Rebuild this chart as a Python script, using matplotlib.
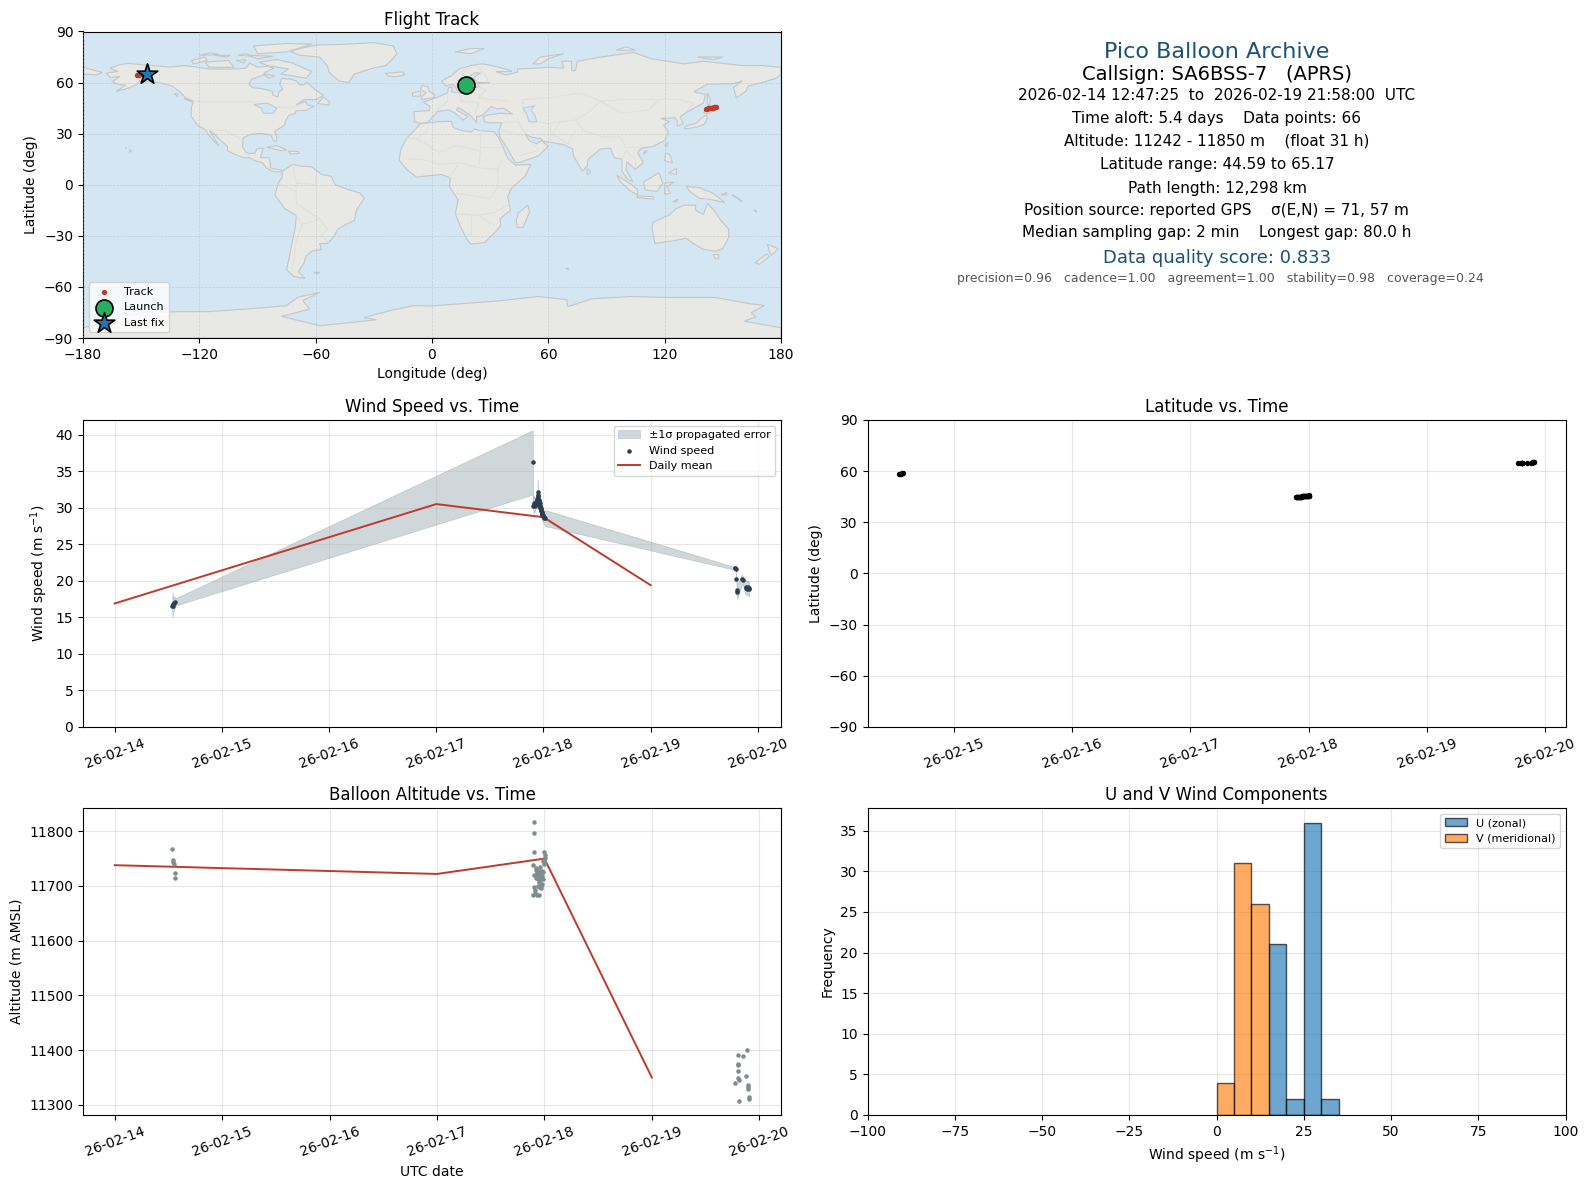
import matplotlib
matplotlib.use("Agg")
import matplotlib.dates as mdates
import matplotlib.pyplot as plt
import numpy as np
from matplotlib.patches import Polygon

####################
# A) Data
####################

# times are given as day of February 2026
mean_days = [14.0, 17.0, 18.0, 19.0]
mean_speed = [16.9, 30.5, 28.7, 19.4]
mean_alt = [11738, 11722, 11750, 11350]

speed_days = [14.535, 14.540, 14.548, 14.556, 14.565,
              17.900, 17.905, 17.910, 17.915, 17.920, 17.925, 17.930, 17.935, 17.938, 17.941,
              17.944, 17.946, 17.948, 17.950, 17.952, 17.954, 17.956, 17.958, 17.960, 17.962,
              17.964, 17.966, 17.968, 17.970, 17.972, 17.974, 17.976, 17.978, 17.980, 17.982,
              17.984, 17.986, 17.988, 17.990, 17.992, 17.994, 17.996, 17.998, 18.002, 18.006,
              18.012,
              19.785, 19.790, 19.795, 19.800, 19.805, 19.808, 19.852, 19.858, 19.885, 19.892,
              19.898, 19.905, 19.910, 19.915, 19.920]
speed = [16.5, 16.8, 16.6, 17.0, 17.1,
         36.2, 30.3, 30.4, 30.6, 30.2, 30.5, 30.8, 31.0, 30.9, 30.7,
         31.2, 32.2, 31.6, 31.3, 31.7, 30.9, 31.0, 30.8, 30.6, 30.4,
         30.6, 30.2, 30.3, 30.0, 30.1, 29.8, 29.9, 29.6, 29.7, 29.4,
         29.3, 29.2, 29.1, 29.0, 29.0, 28.9, 28.8, 28.8, 28.7, 28.6,
         28.6,
         21.7, 21.7, 21.6, 20.2, 18.7, 18.5, 20.2, 20.1, 19.0, 19.1,
         18.9, 19.1, 19.0, 18.9, 19.0]
speed_err = [0.6, 1.7, 0.8, 0.9, 0.5,
             4.4, 0.9, 1.2, 1.0, 0.8, 0.7, 0.8, 0.9, 0.7, 0.8,
             0.9, 1.6, 1.0, 0.9, 0.8, 0.8, 0.8, 0.7, 0.7, 0.8,
             0.7, 0.7, 0.8, 0.7, 0.8, 0.7, 0.7, 0.7, 0.8, 0.7,
             0.8, 0.7, 0.7, 0.8, 0.7, 0.8, 0.7, 0.8, 0.9, 0.9,
             1.1,
             0.2, 0.3, 0.3, 0.6, 1.0, 1.0, 0.7, 0.6, 0.9, 1.0,
             0.9, 1.0, 0.9, 1.1, 1.0]

fix_days = [14.535, 14.540, 14.545, 14.552, 14.558, 14.565,
            17.905, 17.905, 17.905, 17.903, 17.900, 17.898, 17.908, 17.914, 17.895, 17.918,
            17.921, 17.924, 17.927, 17.930, 17.933, 17.936, 17.939, 17.942, 17.945, 17.948,
            17.951, 17.954, 17.957, 17.960, 17.963, 17.966, 17.969, 17.972, 17.975, 17.978,
            17.981, 17.984, 17.987, 17.990, 17.993, 17.996, 18.000, 18.002, 18.004, 18.006,
            19.777, 19.803, 19.803, 19.805, 19.805, 19.805, 19.808, 19.810, 19.850, 19.880,
            19.888, 19.898, 19.898, 19.898, 19.907, 19.907]
altitude = [11767, 11748, 11744, 11740, 11724, 11715,
            11817, 11797, 11762, 11720, 11698, 11684, 11688, 11692, 11738, 11733,
            11730, 11715, 11726, 11722, 11684, 11720, 11712, 11700, 11684, 11708,
            11727, 11698, 11716, 11735, 11722, 11700, 11712, 11696, 11728, 11704,
            11719, 11745, 11725, 11712, 11740, 11750, 11763, 11757, 11752, 11742,
            11340, 11392, 11375, 11373, 11362, 11350, 11307, 11345, 11390, 11353,
            11400, 11336, 11333, 11329, 11315, 11310]
latitude = [58.2, 58.3, 58.4, 58.5, 58.7, 58.8,
            44.6, 44.6, 44.7, 44.7, 44.7, 44.8, 44.8, 44.8, 44.9, 44.9,
            44.9, 45.0, 45.0, 45.0, 45.1, 45.1, 45.1, 45.1, 45.2, 45.2,
            45.2, 45.2, 45.3, 45.3, 45.3, 45.3, 45.4, 45.4, 45.4, 45.4,
            45.5, 45.5, 45.5, 45.5, 45.6, 45.6, 45.6, 45.7, 45.7, 45.8,
            64.6, 64.6, 64.7, 64.7, 64.7, 64.8, 64.8, 64.8, 64.8, 65.0,
            65.0, 65.1, 65.1, 65.1, 65.2, 65.2]

track_lon = [141.5, 142.0, 142.4, 142.8, 143.2, 143.6, 144.0, 144.4, 144.8, 145.2, 145.6, 146.0, 146.5,
             -152.0, -151.5, -151.0, -150.5, -150.0, -149.0, -148.0, -147.0]
track_lat = [44.6, 44.7, 44.8, 44.9, 45.0, 45.1, 45.1, 45.2, 45.3, 45.4, 45.5, 45.7, 45.9,
             64.6, 64.7, 64.7, 64.8, 65.0, 65.1, 65.1, 65.2]
launch_lon, launch_lat = 17.5, 58.5
last_lon, last_lat = -147.0, 65.2

bin_left = [0, 5, 10, 15, 20, 25, 30]
u_counts = [0, 0, 0, 21, 2, 36, 2]
v_counts = [4, 31, 26, 0, 0, 0, 0]

# land outlines (lon, lat)
north_america = [(-168, 65.5), (-162, 66.5), (-166, 68.5), (-161, 70.5), (-156.5, 71.3), (-150, 70.5), (-141, 69.7),
                 (-135, 69), (-128, 70), (-124, 69.5), (-115, 68), (-108, 68), (-100, 68), (-96, 68.5), (-94, 71.5),
                 (-90, 69), (-85, 69.5), (-81.5, 68.5), (-86, 66), (-87, 64.5), (-93, 62), (-94.5, 59), (-92.5, 57),
                 (-88, 56.5), (-82.5, 55), (-82, 52.5), (-79.5, 51.5), (-79, 54.5), (-77, 56), (-78.5, 59), (-77.5, 62.5),
                 (-73, 62), (-70, 61), (-68, 58.5), (-66, 58.8), (-64.5, 60.3), (-61, 56.5), (-56, 52.5), (-60, 50), (-66, 50),
                 (-70, 47), (-65, 49), (-64.5, 47), (-61, 46), (-65, 43.7), (-70, 43.5), (-70.5, 42), (-74, 40.5), (-75.5, 37.5),
                 (-76, 35), (-81, 31.5), (-80, 27), (-80.5, 25.2), (-82, 26.5), (-83, 29), (-85, 29.7), (-89, 30.2),
                 (-94, 29.5), (-97.3, 27.5), (-97.8, 22.5), (-96, 19), (-94, 18.2), (-91, 18.8), (-90.5, 21), (-87, 21.5),
                 (-88, 18), (-88.5, 16), (-84, 15.8), (-83.3, 12), (-83.5, 10), (-80, 9), (-77.5, 8.7), (-78, 7.5), (-80, 7.5),
                 (-83, 8.2), (-85.5, 10), (-87.5, 13), (-91, 14), (-94.5, 16), (-97, 15.8), (-102, 18), (-105.5, 20),
                 (-105.5, 22.5), (-109, 26), (-112.5, 30), (-114.7, 31.7), (-112.5, 27.5), (-110, 23), (-112, 25), (-115, 29),
                 (-117, 32.5), (-120.5, 34.5), (-122.5, 37.5), (-124.3, 40.3), (-124, 46), (-123, 49), (-127, 51), (-130, 54.5),
                 (-134, 58), (-140, 59.8), (-146, 60.8), (-149, 60), (-151, 61), (-152, 59), (-156, 57), (-163, 54.8), (-158, 58.5),
                 (-162, 59), (-165, 60.5), (-161, 63.5), (-166, 63)]
greenland = [(-73, 78.2), (-68, 80), (-60, 82), (-45, 82.5), (-30, 83.5), (-20, 81.5), (-18, 77), (-21, 73), (-24, 70),
             (-32, 68), (-40, 65), (-43, 60), (-48, 61), (-53, 66), (-54, 70), (-58, 75), (-68, 76)]
south_america = [(-77, 8), (-72, 12), (-68, 11), (-62, 10.5), (-57, 6), (-52, 5), (-50, 0), (-44, -2.5), (-37, -5), (-35, -8),
                 (-39, -15), (-40, -21), (-44, -23), (-48.5, -26), (-51, -31), (-54, -34.5), (-58, -34.5), (-57, -38), (-62, -39),
                 (-65, -42), (-66, -46), (-69, -51), (-65.5, -55), (-71, -54), (-75, -50), (-73.5, -42), (-72, -33), (-70.5, -25),
                 (-70, -18), (-76, -14), (-81, -6), (-80, -2), (-79, 1.5), (-77.5, 4)]
africa = [(-6, 35.8), (3, 37), (10, 37.3), (11, 33.5), (15, 32), (20, 31), (22, 32.8), (25, 31.7), (32, 31.2), (34.2, 28),
          (37, 21), (39, 15.5), (43, 11.5), (51, 12), (48, 5), (41, -2), (39, -7), (40.5, -15), (35, -20), (35.5, -24),
          (32.5, -28), (27, -34), (20, -34.8), (18, -32), (14.5, -24), (12, -17), (13.5, -9), (9, -1), (9.5, 4), (5, 6),
          (-4, 5), (-8, 4.5), (-13, 9), (-17, 14.5), (-16, 21), (-13, 27.5), (-9.5, 31.5)]
eurasia = [(-9, 37), (-9.3, 43), (-1.5, 43.5), (-1, 46), (-4.5, 48.5), (2, 51), (4, 52), (8, 54), (8.5, 57), (10.5, 57.5),
           (10, 54.5), (14, 54), (19, 54.5), (21, 57), (24, 57.5), (24, 59.5), (30, 60), (23, 60), (21.5, 63), (25, 65.5),
           (22, 65.8), (17.5, 62), (18.5, 59.5), (16, 56.3), (13, 55.5), (11, 59), (7, 58), (5, 61), (10, 64), (14, 68),
           (20, 70), (26, 71), (31, 70), (41, 67), (41, 66.5), (33, 66.5), (38, 64.5), (44, 66), (44, 68), (54, 68.5),
           (60, 69), (68, 68.5), (67, 72.5), (72, 72.5), (72, 67), (74, 67), (75, 72.5), (80, 73.5), (87, 75), (104, 77.7),
           (113, 74), (130, 71), (140, 72.5), (160, 70), (170, 70), (180, 69), (180, 65), (177.5, 62.5), (170, 60), (163, 58),
           (162, 55), (157, 51), (155.5, 57), (160, 61), (155, 59.3), (142, 59), (135, 54.5), (141, 53), (140, 48), (132, 43),
           (128, 40), (129.5, 36), (126.5, 34.5), (126.5, 37.5), (125, 39.5), (121.5, 39), (118, 39), (122.5, 37), (119.5, 35),
           (122, 31), (120, 26), (114, 22.5), (108, 21.5), (106, 19), (109, 13), (105, 9), (100.5, 13.5), (100, 9), (103.5, 2),
           (101, 3), (98, 8), (98, 15), (94, 16), (92, 21.5), (87, 21), (80.5, 15), (80, 11), (77.5, 8), (73, 17), (72.5, 21),
           (68, 23.5), (61, 25), (57, 25.5), (56.5, 27), (51, 28), (48, 30), (50, 26), (54, 24), (56.5, 26), (59.8, 22.5),
           (55, 17), (45, 13), (43, 13), (39, 21), (35, 28), (34.5, 31.5), (36, 36.5), (30, 36.3), (27, 37), (26.5, 40), (29, 41),
           (35, 42), (41.5, 41.5), (37, 45), (33.5, 44.5), (30.5, 46), (28, 43), (26, 40.8), (23, 40), (23, 36.5), (19.5, 41),
           (13.5, 45.5), (12.5, 44), (18.5, 40), (16, 38), (12, 42), (8.5, 44), (3, 43), (0, 39.5), (-2, 36.8), (-5.5, 36)]
chukotka = [(-180, 69), (-175, 67.5), (-170, 66), (-173, 64.5), (-180, 65)]
australia = [(114, -22), (122, -18), (126, -14), (130, -12), (136, -12), (136, -15), (140, -17.5), (142, -11), (145.5, -15),
             (149, -21), (153, -26), (153, -31), (150, -37.5), (146, -39), (140, -38), (135.5, -35), (131, -31.5), (124, -33),
             (115, -34.5), (113.5, -26)]
antarctica = [(-180, -90), (-180, -84), (-165, -80), (-158, -77), (-148, -75), (-130, -74.5), (-115, -74.5), (-102.6, -73.5),
              (-90, -72.5), (-75, -71), (-74, -70), (-69, -66), (-57.9, -63.3), (-66.7, -68), (-63, -73), (-77.6, -77.3),
              (-57.9, -82.8), (-28.6, -79.3), (-35, -78), (-22, -74), (-9.7, -71), (-1.1, -71.2), (34, -68.3), (54.8, -65.6),
              (69.5, -67.5), (70, -71.6), (73, -70.5), (82.5, -67), (103, -65.6), (120, -66.2), (146, -66.2), (163, -69.7),
              (171.4, -70.9), (164.6, -75.2), (167, -77.6), (161, -80.1), (180, -84), (180, -90)]
islands = [
    [(-80, 73.5), (-72, 71.5), (-67, 69), (-62, 66.5), (-65, 62.5), (-72, 64), (-78, 65), (-74, 68), (-85, 70), (-89, 72)],
    [(-117, 72), (-105, 73), (-102, 69), (-115, 69)],
    [(-90, 77), (-75, 78), (-62, 82.5), (-75, 83), (-92, 81.5)],
    [(-124, 73), (-117, 75), (-116, 73), (-123, 71)],
    [(-95, 76), (-82, 75.5), (-90, 74)],
    [(-112, 76), (-104, 76), (-106, 75)],
    [(-120, 76), (-114, 77.5), (-110, 76.5)],
    [(-100, 76), (-96, 77), (-93, 75.5)],
    [(-87, 65), (-81, 64), (-84, 62.5)],
    [(-101, 73), (-96, 73.5), (-97, 71.5)],
    [(-59, 47.7), (-53, 46.8), (-53, 49), (-56, 51.5)],
    [(-128, 50.5), (-125, 50), (-123.5, 48.5)],
    [(-133, 54), (-131.5, 54), (-131.5, 52)],
    [(-85, 22), (-80, 23), (-75, 20.5), (-78, 20)],
    [(-74, 19.7), (-69, 19.5), (-68.5, 18.5), (-73, 18)],
    [(-156, 19), (-155, 20), (-156, 20.5)],
    [(-158, 21.3), (-157.7, 21.7), (-158.2, 21.6)],
    [(49.5, -12), (50.3, -16), (47, -25), (44, -25), (43.5, -21), (44.5, -16.5)],
    [(-5.5, 50), (1, 51.2), (1.5, 52.8), (-1.5, 55), (-2, 57.5), (-5, 58.5), (-6, 56), (-3, 54), (-5, 52)],
    [(-10, 52), (-6, 52), (-6, 55), (-10, 54)],
    [(-24, 65.5), (-15, 66.2), (-14, 64.5), (-19, 63.4), (-22.5, 64)],
    [(12, 78), (20, 80), (27, 80), (20, 77)],
    [(52, 71), (56, 75), (68, 77), (60, 74), (56, 71)],
    [(95, 79), (105, 79), (100, 81)],
    [(137, 75), (150, 75), (145, 73.5)],
    [(142, 54), (143.5, 50), (143, 46), (142, 48)],
    [(130, 33), (131, 34.5), (136, 36), (140, 40), (141.5, 41), (142, 39), (140.5, 35.5), (136, 33.7), (132, 33)],
    [(140, 42), (142, 45.5), (145.5, 43.5), (143, 42)],
    [(120, 23), (121.7, 25), (121, 22)],
    [(109, 18.3), (111, 19.5), (110, 20)],
    [(80, 6), (80, 9.5), (82, 7.5)],
    [(120, 14), (120.5, 18.5), (122.5, 18), (124, 13)],
    [(122, 7), (126, 9.5), (126, 6)],
    [(109, 1.5), (117, 7), (119, 1), (116, -4), (110, -3)],
    [(95.3, 5.5), (103, 0), (106, -3), (106, -6), (101.5, -3), (97, 2)],
    [(105.5, -6.5), (114, -7), (114.5, -8.5), (106, -7.5)],
    [(120, 1), (125, 1.5), (121, -1), (123, -5), (120, -5.5)],
    [(131, -1), (138, -1.7), (145, -5), (151, -10.5), (143, -8.5), (138, -8), (133, -4)],
    [(124, -10), (127, -8.5), (126, -10)],
    [(149, -6), (152, -4.5), (152, -6)],
    [(155, -6), (158, -8), (160, -10)],
    [(166, -15), (167.5, -16), (167, -15)],
    [(145, -41), (148, -41), (147.5, -43.5), (146, -43.5)],
    [(173, -35), (178.5, -37.5), (175, -41.5), (174, -39)],
    [(172.5, -40.7), (174, -42), (169, -46.7), (166.5, -45.8)],
    [(69, -49), (70.5, -49), (70, -50)],
    [(-61, -51.5), (-58, -51.5), (-59, -52.3)],
]
caspian = [(47, 45), (53, 46.5), (51, 44), (53, 41), (54, 37), (50, 37), (49, 41)]
great_lakes = [(-92, 47), (-85, 48), (-80, 45), (-82, 42), (-87, 42), (-88, 45)]
# a few country borders, only faint on the map
borders = [
    [(-141, 69.7), (-141, 60)], [(-123, 49), (-95, 49), (-83, 46), (-75, 45), (-67, 47)],
    [(-117, 32.5), (-106, 31.7), (-97.3, 26)], [(-92, 14.5), (-91, 18)],
    [(-72, 12), (-70, 1), (-70, -11), (-58, -20), (-54, -26), (-57, -30), (-53, -34)],
    [(-78, 0), (-70, -4)], [(-70, -18), (-67, -23), (-70, -33), (-72, -50)], [(-60, 5), (-60, 0), (-70, 1)],
    [(-58, -20), (-62, -22), (-67, -23)],
    [(-2, 35), (-2, 32), (-8, 27), (-13, 27.5)], [(-8, 27), (4, 19), (12, 23), (25, 20), (25, 31.7)],
    [(25, 22), (36, 22)], [(25, 20), (24, 10), (14, 13), (4, 12), (-5, 15), (-12, 15)],
    [(24, 10), (34, 9), (36, 15)], [(34, 9), (34, -1), (40, -3)], [(14, 13), (9, 4)], [(12, -5), (30, -8), (34, -1)],
    [(12, -17), (24, -18), (33, -16), (40, -11)], [(20, -18), (20, -29), (17, -29)], [(24, -18), (32, -24)],
    [(2, 43), (8, 49), (8, 54)], [(14, 54), (15, 49), (24, 48), (22, 41)], [(24, 57.5), (28, 56), (24, 51), (40, 49)],
    [(24, 69), (29, 62), (28, 60)], [(13, 55), (13, 65), (20, 69)],
    [(47, 42), (47, 50), (60, 51), (77, 54), (87, 49)], [(87, 49), (98, 50), (117, 50), (127, 50), (135, 48), (131, 43)],
    [(87, 49), (80, 42), (74, 38), (78, 32), (88, 28), (97, 28), (100, 22), (107, 22)],
    [(117, 50), (112, 44), (98, 42), (87, 49)], [(54, 37), (60, 36), (66, 37), (74, 38)],
    [(61, 25), (61, 35)], [(66, 37), (62, 30), (70, 24)], [(44, 39), (48, 30)], [(36, 36.5), (44, 37), (48, 30)],
    [(36, 32), (47, 29)], [(45, 17), (55, 20), (52, 24)], [(98, 15), (100, 20), (105, 15), (105, 10)],
    [(70, 24), (74, 32)], [(141, -3), (141, -9)],
]

####################
# B) Layout
####################

FIG_W, FIG_H = 1588, 1189
LEFT_X, RIGHT_X, PANEL_W, PANEL_H = 83, 867.5, 698, 307
ROW_Y = [31.5, 420, 808]
TEXT_CENTER = 1217


def panel(x, top, height=PANEL_H):
    return fig.add_axes([x / FIG_W, 1 - (top + height) / FIG_H, PANEL_W / FIG_W, height / FIG_H])


def to_dates(days):
    return mdates.date2num(np.datetime64("2026-01-31")) + np.asarray(days)


def date_axis(ax):
    ax.xaxis.set_major_locator(mdates.DayLocator())
    ax.xaxis.set_major_formatter(mdates.DateFormatter("%y-%m-%d"))
    ax.tick_params(axis="x", rotation=20)


fig = plt.figure(figsize=(FIG_W / 100, FIG_H / 100), dpi=100)

RED = "#c0392b"
NAVY = "#2c3e50"
GREY = "#7f8c8d"
HEAD = "#1a5276"

####################
# C) Flight track map
####################

ax = panel(LEFT_X, ROW_Y[0], PANEL_H - 0.5)
ax.set_facecolor("#d4e6f1")
land = [north_america, greenland, south_america, africa, eurasia, chukotka, australia, antarctica] + islands
for shape in land:
    ax.add_patch(Polygon(shape, closed=True, fc="#e8e8e4", ec="#c2c7ca", lw=0.8, zorder=1))
for shape in [caspian, great_lakes]:
    ax.add_patch(Polygon(shape, closed=True, fc="#d4e6f1", ec="#c2c7ca", lw=0.7, zorder=1.2))
for line in borders:
    xs, ys = zip(*line)
    ax.plot(xs, ys, color="#dfdfdb", lw=0.7, zorder=1.1)
ax.grid(True, color="#a9b3b8", ls="--", lw=0.5, alpha=0.45, zorder=1.5)
ax.set_axisbelow(False)
ax.scatter(track_lon, track_lat, s=8, color=RED, label="Track", zorder=3)
ax.scatter(launch_lon, launch_lat, s=150, color="#27ae60", edgecolor="black", lw=1.2, label="Launch", zorder=4)
ax.scatter(last_lon, last_lat, s=240, marker="*", color="#1f77b4", edgecolor="black", lw=1.2, label="Last fix", zorder=5)
ax.set_xlim(-180, 180)
ax.set_ylim(-90, 90)
ax.set_xticks(np.arange(-180, 181, 60))
ax.set_yticks(np.arange(-90, 91, 30))
ax.set_xlabel("Longitude (deg)")
ax.set_ylabel("Latitude (deg)")
ax.set_title("Flight Track", pad=5)
ax.legend(loc="lower left", fontsize=8)

####################
# D) Text block
####################

ax = panel(RIGHT_X, ROW_Y[0])
ax.axis("off")
text_lines = [
    ("Pico Balloon Archive", 52, 16, HEAD, 0),
    ("Callsign: SA6BSS-7   (APRS)", 74, 14, "black", 0),
    ("2026-02-14 12:47:25  to  2026-02-19 21:58:00  UTC", 95, 11, "black", 0),
    ("Time aloft: 5.4 days    Data points: 66", 118, 11, "black", 0),
    ("Altitude: 11242 - 11850 m    (float 31 h)", 141, 11, "black", 0),
    ("Latitude range: 44.59 to 65.17", 164, 11, "black", 0),
    ("Path length: 12,298 km", 188, 11, "black", 0),
    ("Position source: reported GPS    \u03c3(E,N) = 71, 57 m", 210, 11, "black", -1),
    ("Median sampling gap: 2 min    Longest gap: 80.0 h", 233, 11, "black", 0),
    ("Data quality score: 0.833", 258, 13, HEAD, 0),
    ("precision=0.96   cadence=1.00   agreement=1.00   stability=0.98   coverage=0.24", 279, 9, "#555555", 3),
]
for label, y, size, colour, nudge in text_lines:
    fig.text((TEXT_CENTER + nudge) / FIG_W, 1 - y / FIG_H, label, fontsize=size, color=colour, ha="center", va="center")

####################
# E) Wind speed
####################

ax = panel(LEFT_X, ROW_Y[1])
t_speed = to_dates(speed_days)
s = np.array(speed)
e = np.array(speed_err)
ax.fill_between(t_speed, s - e, s + e, color="#6f8490", alpha=0.32, lw=0.5, label="\u00b11\u03c3 propagated error")
ax.scatter(t_speed, s, s=5, color=NAVY, label="Wind speed", zorder=3)
ax.plot(to_dates(mean_days), mean_speed, color=RED, lw=1.4, label="Daily mean", zorder=2)
ax.set_ylim(0, 42)
ax.set_yticks(np.arange(0, 41, 5))
ax.set_ylabel("Wind speed (m s$^{-1}$)")
ax.set_title("Wind Speed vs. Time")
date_axis(ax)
ax.grid(True, alpha=0.3)
ax.legend(loc="upper right", fontsize=8)

####################
# F) Latitude
####################

ax = panel(RIGHT_X, ROW_Y[1])
ax.scatter(to_dates(fix_days), latitude, s=8, color="black", zorder=3)
ax.set_ylim(-90, 90)
ax.set_yticks(np.arange(-90, 91, 30))
ax.set_ylabel("Latitude (deg)")
ax.set_title("Latitude vs. Time")
date_axis(ax)
ax.grid(True, alpha=0.3)

####################
# G) Altitude
####################

ax = panel(LEFT_X, ROW_Y[2])
ax.scatter(to_dates(fix_days), altitude, s=5, color=GREY, zorder=3)
ax.plot(to_dates(mean_days), mean_alt, color=RED, lw=1.4, zorder=2)
ax.set_ylabel("Altitude (m AMSL)")
ax.set_xlabel("UTC date")
ax.set_title("Balloon Altitude vs. Time")
date_axis(ax)
ax.grid(True, alpha=0.3)

####################
# H) U and V histogram
####################

ax = panel(RIGHT_X, ROW_Y[2])
ax.bar(bin_left, u_counts, width=5, align="edge", color="#1f77b4", alpha=0.65, edgecolor="black", label="U (zonal)")
ax.bar(bin_left, v_counts, width=5, align="edge", color="#ff7f0e", alpha=0.65, edgecolor="black", label="V (meridional)")
ax.set_xlim(-100, 100)
ax.set_xlabel("Wind speed (m s$^{-1}$)")
ax.set_ylabel("Frequency")
ax.set_title("U and V Wind Components")
ax.grid(True, alpha=0.3)
ax.set_axisbelow(True)
ax.legend(loc="upper right", fontsize=8)

plt.savefig("out.png", dpi=100)
